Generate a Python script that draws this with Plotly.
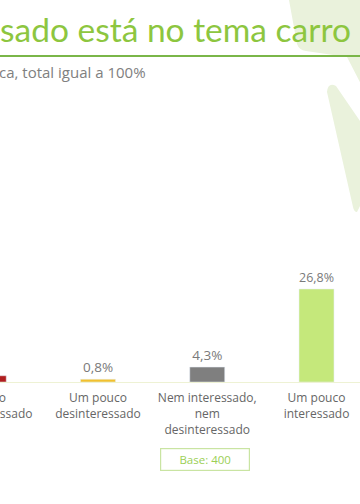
import plotly.graph_objects as go

categories = [
    "Muito<br>desinteressado",
    "Um pouco<br>desinteressado",
    "Nem interessado,<br>nem<br>desinteressado",
    "Um pouco<br>interessado",
    "Muito<br>interessado",
]
values = [1.8, 0.8, 4.3, 26.8, 66.3]
colors = ["#B01E1E", "#F2C12E", "#7F7F7F", "#C5E87B", "#8DC63F"]
title_text = "sado está no tema carro"
subtitle_text = "ca, total igual a 100%"
base_text = "Base: 400"

W, H = 360, 504
T, B = 60, 122
PH = H - T - B


def px(x):
    return x / W


def py(y):
    return (H - B - y) / PH


LABEL_FONT = dict(family="Open Sans", size=12, color="#666666")

fig = go.Figure(
    go.Bar(
        x=categories,
        y=values,
        marker_color=colors,
        width=0.32,
        texttemplate="%{y:.1f}%",
        textposition="outside",
        cliponaxis=False,
        textfont=dict(family="Open Sans", size=13.5, color="#7A7A7A"),
    )
)

# background decoration (light green watermark strokes)
deco = "#EAF2DC"
pathA = "M {} {} L {} {} Q {} {} {} {} L {} {} L {} {} L {} {} Z".format(
    px(289), py(0), px(297), py(44), px(299), py(50), px(306), py(51),
    px(347), py(57), px(362), py(86), px(362), py(0))
pathB = "M {} {} Q {} {} {} {} L {} {} L {} {} L {} {} Q {} {} {} {} Z".format(
    px(327), py(92), px(328), py(82), px(336), py(86),
    px(362), py(124), px(362), py(202), px(357), py(212),
    px(354), py(212), px(353), py(207))
shapes = [
    dict(type="path", path=pathA, xref="paper", yref="paper",
         fillcolor=deco, line=dict(width=0), layer="below"),
    dict(type="path", path=pathB, xref="paper", yref="paper",
         fillcolor=deco, line=dict(width=0), layer="below"),
    dict(type="line", xref="paper", yref="paper", x0=0, x1=1,
         y0=py(56), y1=py(56), line=dict(color="#7AB648", width=2)),
]

annotations = [
    dict(text=title_text, xref="paper", yref="paper", x=0, y=py(29),
         xanchor="left", yanchor="middle", showarrow=False, xshift=-2,
         font=dict(family="Lato", size=33.5, color="#8DC63F")),
    dict(text=subtitle_text, xref="paper", yref="paper", x=0, y=py(72),
         xanchor="left", yanchor="middle", showarrow=False, xshift=-3,
         font=dict(family="Open Sans", size=15, color="#808080")),
    dict(text=categories[0], xref="paper", yref="paper", x=px(-10.5), y=py(387),
         xanchor="center", yanchor="top", showarrow=False, align="center",
         font=LABEL_FONT),
    dict(text=base_text, xref="paper", yref="paper", x=px(205), y=py(459.5),
         xanchor="center", yanchor="middle", showarrow=False,
         width=86, height=19, bordercolor="#C9E4A2", borderwidth=1.2,
         font=dict(family="Open Sans", size=11.5, color="#9BCF55")),
]

a = 1 - 98 / 109.25
fig.update_layout(
    width=W, height=H,
    margin=dict(l=0, r=0, t=T, b=B),
    paper_bgcolor="white", plot_bgcolor="rgba(0,0,0,0)",
    separators=",.",
    showlegend=False,
    shapes=shapes,
    annotations=annotations,
    xaxis=dict(range=[a, a + W / 109.25], showline=True, linecolor="#EEF2D4",
               linewidth=1, ticks="", tickfont=LABEL_FONT, showgrid=False,
               ticklabelstandoff=5, fixedrange=True),
    yaxis=dict(range=[0, PH / 3.47], visible=False, showgrid=False,
               fixedrange=True),
)

fig.write_html(
    "out.html",
    config={"displayModeBar": False, "staticPlot": True},
    post_script="document.body.style.margin='0';document.body.style.overflow='hidden';",
)
